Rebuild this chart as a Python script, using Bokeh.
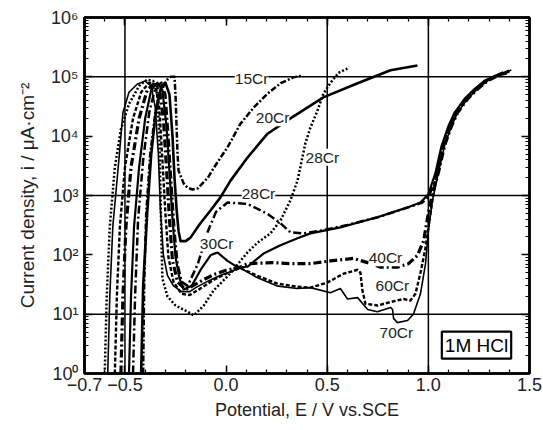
from bokeh.plotting import figure
from bokeh.models import FixedTicker, LogAxis, LinearAxis, Span, Label, CustomJSTickFormatter
from bokeh.embed import file_html
from bokeh.resources import INLINE

# ---------------- data ----------------
cr15_x = [-0.41, -0.405, -0.395, -0.375, -0.35, -0.32, -0.29, -0.275, -0.255, -0.25, -0.245, -0.24, -0.235,
          -0.21, -0.19, -0.166, -0.14, -0.09, -0.06, 0.007, 0.07, 0.135, 0.205, 0.27, 0.333, 0.378]
cr15_y = [1, 30, 500, 5000, 2.5e4, 6e4, 9e4, 1e5, 1e5, 5e4, 1.5e4, 5000, 2600,
          1600, 1350, 1260, 1320, 2000, 2950, 6500, 1.6e4, 3e4, 5.2e4, 7.8e4, 9.8e4, 1.05e5]

cr20_x = [-0.42, -0.41, -0.39, -0.37, -0.345, -0.32, -0.30, -0.28, -0.265, -0.255, -0.245, -0.235, -0.225,
          -0.2, -0.176, -0.127, -0.077, -0.028, 0.022, 0.106, 0.205, 0.318, 0.481, 0.65, 0.813, 0.946]
cr20_y = [1, 30, 500, 5000, 3e4, 7e4, 8e4, 5e4, 1e4, 2000, 600, 250, 170,
          170, 195, 340, 560, 930, 1780, 4370, 1.1e4, 2e4, 4.5e4, 7.8e4, 1.29e5, 1.55e5]

cr28a_x = [-0.60, -0.59, -0.575, -0.55, -0.52, -0.48, -0.43, -0.39, -0.36, -0.34, -0.33, -0.325, -0.32,
           -0.315, -0.29, -0.25, -0.19, -0.16, -0.11, -0.062, 0.022, 0.071, 0.106, 0.155, 0.219, 0.269,
           0.318, 0.353, 0.392, 0.417, 0.452, 0.481, 0.516, 0.556, 0.60]
cr28a_y = [1, 20, 300, 3000, 1.3e4, 3.5e4, 7e4, 9e4, 8.5e4, 5e4, 1e4, 1500, 200,
           40, 20, 14, 11, 9.5, 14, 25, 49, 79, 110, 160, 230, 380,
           830, 1780, 7600, 1.4e4, 2.7e4, 5.2e4, 7.9e4, 1.17e5, 1.38e5]

cr28b_x = [-0.46, -0.45, -0.435, -0.41, -0.38, -0.35, -0.32, -0.30, -0.285, -0.27, -0.255, -0.24, -0.22,
           -0.19, -0.14, -0.09, -0.05, 0.007, 0.106, 0.205, 0.269, 0.318, 0.38, 0.48, 0.6, 0.75, 0.9,
           0.97, 1.005, 1.04, 1.07, 1.10, 1.13, 1.18, 1.23, 1.28, 1.33, 1.38]
cr28b_y = [1, 20, 400, 4000, 2.5e4, 6.5e4, 8e4, 5e4, 1e4, 1500, 250, 70, 35,
           30, 70, 250, 530, 760, 720, 490, 340, 240, 230, 260, 320, 430, 630,
           760, 1000, 2200, 6300, 1.4e4, 2.4e4, 4.2e4, 6.2e4, 8.5e4, 1.02e5, 1.15e5]

cr30_x = [-0.48, -0.47, -0.455, -0.43, -0.40, -0.37, -0.34, -0.315, -0.295, -0.28, -0.265, -0.25, -0.23,
          -0.21, -0.17, -0.127, -0.077, -0.043, 0.007, 0.056, 0.106, 0.185, 0.269, 0.353, 0.417, 0.565,
          0.748, 0.897, 0.961, 1.0, 1.035, 1.065, 1.10, 1.13, 1.18, 1.23, 1.28, 1.33, 1.37]
cr30_y = [1, 20, 300, 3000, 2e4, 6e4, 8e4, 6e4, 1.5e4, 2500, 400, 90, 40,
          26, 30, 55, 98, 110, 79, 62, 63, 105, 145, 190, 230, 290,
          430, 630, 760, 1050, 2400, 6800, 1.5e4, 2.5e4, 4.3e4, 6.3e4, 8.7e4, 1.04e5, 1.2e5]

cr40_x = [-0.52, -0.51, -0.495, -0.47, -0.43, -0.39, -0.36, -0.33, -0.31, -0.295, -0.28, -0.265, -0.24,
          -0.2, -0.15, -0.1, -0.05, 0.0, 0.07, 0.106, 0.234, 0.318, 0.417, 0.516, 0.63, 0.699, 0.763,
          0.847, 0.902, 0.946, 0.976, 1.0, 1.02, 1.05, 1.08, 1.115, 1.145, 1.195, 1.245, 1.295, 1.345, 1.40]
cr40_y = [1, 20, 300, 3000, 2e4, 6e4, 7.5e4, 6e4, 2e4, 3000, 400, 80, 35,
          26, 32, 40, 48, 55, 62, 71, 74, 71, 71, 79, 87, 74, 62,
          62, 71, 98, 170, 500, 1070, 2450, 6900, 1.5e4, 2.5e4, 4.3e4, 6.3e4, 8.7e4, 1.05e5, 1.25e5]

cr60_x = [-0.55, -0.54, -0.525, -0.50, -0.46, -0.42, -0.38, -0.35, -0.33, -0.315, -0.30, -0.285, -0.26,
          -0.22, -0.18, -0.12, -0.06, 0.0, 0.07, 0.15, 0.25, 0.35, 0.417, 0.50, 0.58, 0.65, 0.664,
          0.674, 0.689, 0.748, 0.813, 0.877, 0.911, 0.936, 0.96, 0.986, 1.01, 1.04, 1.07, 1.105,
          1.135, 1.185, 1.235, 1.285, 1.33, 1.39]
cr60_y = [1, 20, 300, 3000, 2e4, 5.5e4, 8e4, 7.5e4, 3e4, 4000, 500, 90, 35,
          22, 21, 28, 38, 48, 60, 45, 33, 29, 28, 34, 48, 56, 50,
          25, 15, 14, 16, 18, 17, 22, 48, 130, 500, 2300, 6500, 1.45e4,
          2.4e4, 4.2e4, 6.2e4, 8.5e4, 1.02e5, 1.15e5]

cr70_x = [-0.585, -0.575, -0.56, -0.53, -0.51, -0.48, -0.44, -0.40, -0.37, -0.35, -0.335, -0.325, -0.31,
          -0.29, -0.26, -0.22, -0.18, -0.15, -0.09, -0.03, 0.02, 0.07, 0.15, 0.25, 0.35, 0.417, 0.516,
          0.565, 0.60, 0.65, 0.70, 0.748, 0.813, 0.823, 0.828, 0.847, 0.897, 0.926, 0.961, 0.986, 1.0,
          1.02, 1.05, 1.08, 1.115, 1.145, 1.195, 1.245, 1.295, 1.34, 1.41]
cr70_y = [1, 20, 300, 4000, 2.5e4, 5.5e4, 7.5e4, 8.5e4, 7e4, 3e4, 5000, 600, 100,
          45, 30, 24, 24, 28, 36, 45, 52, 60, 42, 30, 27, 28, 23,
          27, 18, 19, 12, 11, 13, 12, 8.5, 7.2, 7.8, 10, 22, 71, 250,
          810, 2450, 6900, 1.5e4, 2.5e4, 4.3e4, 6.3e4, 8.7e4, 1.05e5, 1.3e5]

curve_labels = ["15Cr", "20Cr", "28Cr", "28Cr", "30Cr", "40Cr", "60Cr", "70Cr"]
curve_label_x = [0.126, 0.23, 0.476, 0.16, -0.047, 0.788, 0.822, 0.842]
curve_label_y = [9.3e4, 2.04e4, 4.4e3, 1.07e3, 158, 89, 30, 4.9]

x_ticks = [-0.7, -0.5, 0.0, 0.5, 1.0, 1.5]
x_minor = [-0.6, -0.5, -0.4, -0.3, -0.2, -0.1, 0.0, 0.1, 0.2, 0.3, 0.4, 0.5, 0.6, 0.7, 0.8, 0.9,
           1.0, 1.1, 1.2, 1.3, 1.4]
y_ticks = [1, 10, 100, 1000, 1e4, 1e5, 1e6]
y_minor = [m * d for d in [1, 10, 100, 1000, 1e4, 1e5] for m in [2, 3, 4, 5, 6, 7, 8, 9]]
x_grid = [-0.5, 0.5, 1.0]
y_grid = [10, 1000, 1e5]

FONT = "Liberation Sans"

p = figure(width=543, height=430, x_range=(-0.7, 1.5), y_range=(1, 1e6), y_axis_type="log",
           output_backend="svg", toolbar_location=None,
           min_border_left=84, min_border_right=14, min_border_top=17, min_border_bottom=57)
p.background_fill_color = "white"
p.border_fill_color = "white"
p.outline_line_color = "black"
p.outline_line_width = 2.5
p.xgrid.visible = False
p.ygrid.visible = False

for gx in x_grid:
    p.add_layout(Span(location=gx, dimension="height", line_color="black", line_width=1.5, level="underlay"))
for gy in y_grid:
    p.add_layout(Span(location=gy, dimension="width", line_color="black", line_width=1.5, level="underlay"))

styles = [
    (cr15_x, cr15_y, "6 2 2 2", 2.5),
    (cr20_x, cr20_y, "solid", 2.6),
    (cr28a_x, cr28a_y, "2 2", 2.5),
    (cr28b_x, cr28b_y, "8 3 2 3", 2.5),
    (cr30_x, cr30_y, "solid", 2.2),
    (cr40_x, cr40_y, "8 3 2 3", 3.2),
    (cr60_x, cr60_y, "4 2", 2.4),
    (cr70_x, cr70_y, "solid", 1.6),
]
for xs, ys, dash, w in styles:
    p.line(xs, ys, line_color="black", line_width=w, line_dash=dash, line_join="round")

for t, lx, ly in zip(curve_labels, curve_label_x, curve_label_y):
    p.add_layout(Label(x=lx, y=ly, text=t, text_align="center", text_baseline="middle",
                       text_font=FONT, text_font_size="15.5px", text_color="#222222",
                       background_fill_color="white"))

p.add_layout(Label(x=1.238, y=3.0, text="1M HCl", text_align="center", text_baseline="middle",
                   text_font=FONT, text_font_size="19px", text_color="black",
                   background_fill_color="white", border_line_color="black", border_line_width=2.2,
                   padding=3))

# axes
xa = p.xaxis[0]
xa.ticker = FixedTicker(ticks=x_ticks, minor_ticks=x_minor)
xa.formatter = CustomJSTickFormatter(code="return tick.toFixed(1).replace('-', '\u2212');")
ya = p.yaxis[0]
ya.ticker = FixedTicker(ticks=y_ticks, minor_ticks=y_minor)
ya.formatter = CustomJSTickFormatter(code="""
const sup = ['\u2070','\u00b9','\u00b2','\u00b3','\u2074','\u2075','\u2076'];
return '10' + sup[Math.round(Math.log10(tick))];""")

xa.axis_label = "Potential, E / V vs.SCE"
ya.axis_label = "Current density, i / \u03bcA\u00b7cm\u207b\u00b2"

for ax in (xa, ya):
    ax.axis_line_width = 2.5
    ax.major_tick_in = 8
    ax.major_tick_out = 0
    ax.minor_tick_in = 4
    ax.minor_tick_out = 0
    ax.major_tick_line_width = 1.5
    ax.minor_tick_line_width = 1.2
    ax.major_label_text_font = FONT
    ax.major_label_text_font_size = "18px"
    ax.major_label_text_color = "#222222"
    ax.axis_label_text_font = FONT
    ax.axis_label_text_font_style = "normal"
    ax.axis_label_text_color = "#222222"
xa.axis_label_text_font_size = "18px"
ya.axis_label_text_font_size = "19px"
xa.major_label_standoff = 4
xa.axis_label_standoff = 6
ya.major_label_standoff = 6
ya.axis_label_standoff = 10

blank = CustomJSTickFormatter(code="return '';")
top = LinearAxis(ticker=FixedTicker(ticks=x_ticks, minor_ticks=x_minor), formatter=blank,
                 major_tick_in=8, major_tick_out=0, minor_tick_in=4, minor_tick_out=0,
                 axis_line_width=2.5, major_tick_line_width=1.5, minor_tick_line_width=1.2,
                 major_label_standoff=0)
right = LogAxis(ticker=FixedTicker(ticks=y_ticks, minor_ticks=y_minor),
                formatter=CustomJSTickFormatter(code="return '';"),
                major_tick_in=8, major_tick_out=0, minor_tick_in=4, minor_tick_out=0,
                axis_line_width=2.5, major_tick_line_width=1.5, minor_tick_line_width=1.2,
                major_label_standoff=0)
p.add_layout(top, "above")
p.add_layout(right, "right")

open("out.html", "w").write(file_html(p, INLINE))
